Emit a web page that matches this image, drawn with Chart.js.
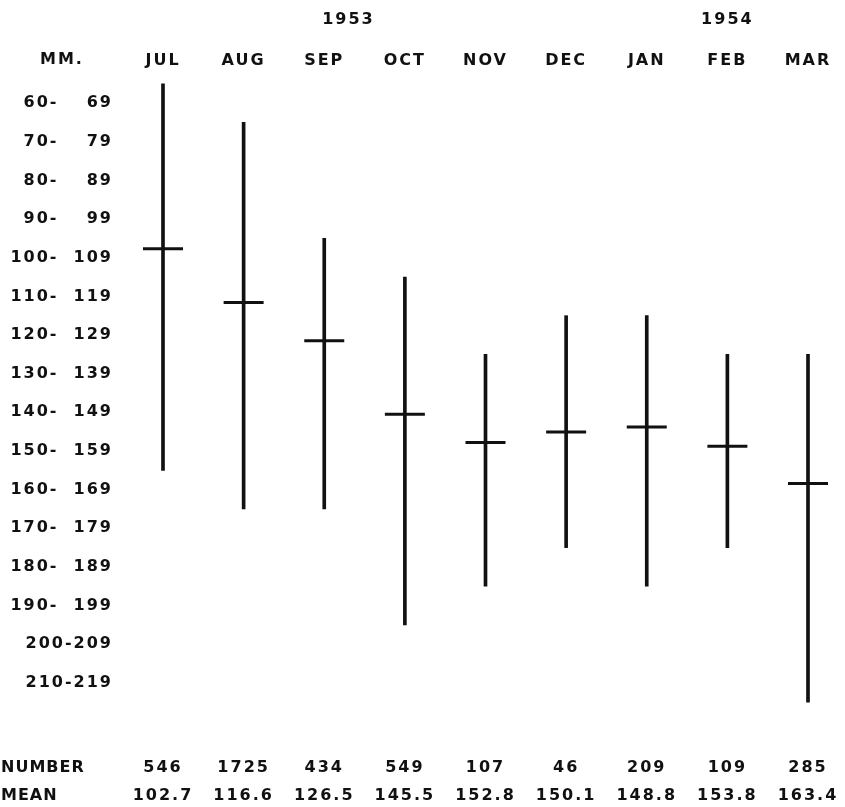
<!DOCTYPE html>
<html>
<head>
<meta charset="utf-8">
<script src="https://cdn.jsdelivr.net/npm/chart.js@4"></script>
<style>
  html, body { margin: 0; padding: 0; background: #fff; }
</style>
</head>
<body>
<canvas id="lengthChart" width="845" height="807"></canvas>
<script>
const months = ['JUL', 'AUG', 'SEP', 'OCT', 'NOV', 'DEC', 'JAN', 'FEB', 'MAR']
const sizeClasses = ['60- \u2007 69', '70- \u2007 79', '80- \u2007 89', '90- \u2007 99',
  '100-  109', '110-  119', '120-  129', '130-  139', '140-  149', '150-  159', '160-  169', '170-  179',
  '180-  189', '190-  199', '200-209', '210-219']
const classMids = [65, 75, 85, 95, 105, 115, 125, 135, 145, 155, 165, 175, 185, 195, 205, 215]
const lowest = [60, 70, 100, 110, 130, 120, 120, 130, 130]
const highest = [160, 170, 170, 200, 190, 180, 190, 180, 220]
const means = [102.7, 116.6, 126.5, 145.5, 152.8, 150.1, 148.8, 153.8, 163.4]
const counts = [546, 1725, 434, 549, 107, 46, 209, 109, 285]
const years = ['1953', '1954']
const yearAt = [2.3, 7]

const ink = '#111'
const spacing = '2px'
const font = { family: 'DejaVu Sans', size: 16, weight: 'bold' }

// the stencil lettering of the original is widely spaced
const lettering = {
  id: 'lettering',
  beforeUpdate (chart) { chart.ctx.letterSpacing = spacing },
  beforeDraw (chart) { chart.ctx.letterSpacing = spacing },
  afterDraw (chart) {
    const { ctx, scales: { x, x2 } } = chart
    ctx.save()
    ctx.letterSpacing = spacing
    ctx.font = 'bold 16px "DejaVu Sans"'
    ctx.fillStyle = ink
    ctx.textBaseline = 'middle'
    ctx.textAlign = 'center'
    years.forEach((label, i) => ctx.fillText(label, x.getPixelForValue(yearAt[i]), 20))
    ctx.textAlign = 'left'
    ctx.fillText('MM.', 40, x.bottom - 16)
    ctx.letterSpacing = '1px'
    ctx.fillText('NUMBER', 1, x2.top + 58)
    ctx.fillText('MEAN', 1, x2.top + 86)
    ctx.restore()
  }
}

const noPadding = (scale) => {
  scale.paddingLeft = 0
  scale.paddingRight = 0
}

const ctx = document.getElementById('lengthChart').getContext('2d')

new Chart(ctx, {
  type: 'bar',
  data: {
    labels: months,
    datasets: [
      {
        type: 'bar',
        data: months.map((m, i) => [lowest[i], highest[i]]),
        backgroundColor: ink,
        barThickness: 3,
        clip: false
      },
      {
        type: 'line',
        data: means,
        showLine: false,
        pointStyle: 'line',
        pointRadius: 20,
        pointHoverRadius: 20,
        borderColor: ink,
        borderWidth: 3,
        clip: false
      }
    ]
  },
  options: {
    responsive: false,
    animation: false,
    layout: { padding: { right: 37 } },
    plugins: {
      legend: { display: false },
      tooltip: { enabled: false }
    },
    scales: {
      x: {
        type: 'category',
        position: 'top',
        offset: false,
        grid: { display: false, drawTicks: false },
        border: { display: false },
        ticks: { color: ink, font, padding: 6, maxRotation: 0, autoSkip: false },
        afterFit: (scale) => { scale.height = 76; noPadding(scale) }
      },
      x2: {
        type: 'category',
        position: 'bottom',
        offset: false,
        grid: { display: false, drawTicks: false },
        border: { display: false },
        ticks: {
          color: ink,
          font: { ...font, lineHeight: '28px' },
          padding: 44,
          maxRotation: 0,
          autoSkip: false,
          callback: (value, i) => [String(counts[i]), means[i].toFixed(1)]
        },
        afterFit: (scale) => { scale.height = 97; noPadding(scale) }
      },
      y: {
        type: 'linear',
        reverse: true,
        min: 58,
        max: 222,
        grid: { display: false, drawTicks: false },
        border: { display: false },
        ticks: {
          color: ink,
          font,
          padding: 50,
          callback: (value, i) => sizeClasses[i]
        },
        afterBuildTicks: (scale) => { scale.ticks = classMids.map((v) => ({ value: v })) },
        afterFit: (scale) => { scale.width = 163 }
      }
    }
  },
  plugins: [lettering]
})
</script>
</body>
</html>
